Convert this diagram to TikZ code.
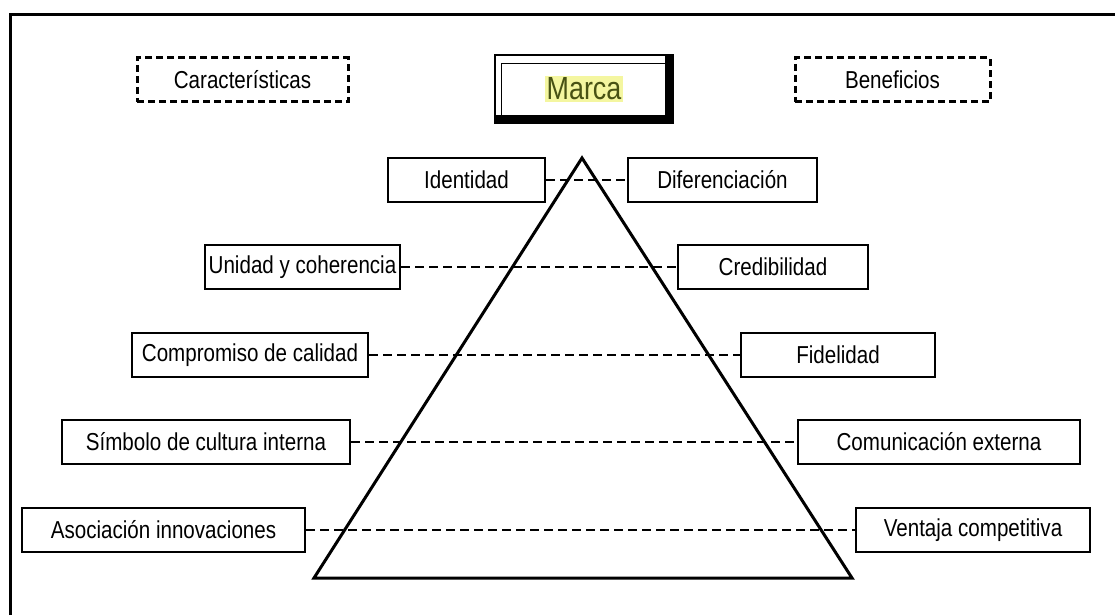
\documentclass[tikz,border=0pt]{standalone}
\usepackage{fontspec}
\setmainfont{Liberation Sans}[FakeStretch=0.84]
\usetikzlibrary{calc}
\definecolor{marcatext}{RGB}{72,82,20}
\definecolor{marcahl}{RGB}{244,246,160}

\begin{document}
\begin{tikzpicture}[
    x=1pt, y=-1pt,
    bbox/.style={draw, line width=2.6, minimum height=44, inner sep=2, font=\fontsize{24.5}{26}\selectfont},
    dbox/.style={draw, line width=3, dash pattern=on 7 off 4, minimum height=44, font=\fontsize{24.5}{26}\selectfont},
    dashline/.style={line width=2.6, dash pattern=on 9 off 5},
    line width=3
]
\useasboundingbox (0,0) rectangle (1115,615);

% outer frame (only top and left visible)
\coordinate (fbl) at (10,615);
\coordinate (ftl) at (10,15);
\coordinate (ftr) at (1115,15);
\draw[line width=3] (fbl) -- (ftl) -- (ftr);

% headers
\node[dbox, minimum width=211] (carac) at (242.5,80) {Características};
\node[dbox, minimum width=195] (benef) at (892.5,80) {Beneficios};
\node[draw, fill=white, line width=2.6, minimum width=178, minimum height=68, inner sep=0,
      font=\fontsize{32}{34}\selectfont] (marca) at (584,89)
      {\setlength{\fboxsep}{2pt}\colorbox{marcahl}{\textcolor{marcatext}{Marca}}};
\fill ($(marca.south west)+(0,-9)$) rectangle (marca.south east);
\fill ($(marca.north east)+(-9,0)$) rectangle (marca.south east);
\draw[line width=1.3] ($(marca.south west)+(8,-9)$) -- ($(marca.north west)+(8,10)$) -- ($(marca.north east)+(-9,10)$);

% pyramid
\coordinate (apex) at (582,158);
\coordinate (bl) at (314,578);
\coordinate (br) at (852,578);
\draw (apex) -- (bl) -- (br) -- cycle;

% left column: caracteristicas
\node[bbox, minimum width=157] (ident) at (466.5,180) {Identidad};
\node[bbox, minimum width=195] (unidad) at (302.5,267) {Unidad y coherencia};
\node[bbox, minimum width=236] (compr) at (250,355) {Compromiso de calidad};
\node[bbox, minimum width=288] (simbolo) at (206,442) {Símbolo de cultura interna};
\node[bbox, minimum width=283] (asoc) at (163.5,530) {Asociación innovaciones};

% right column: beneficios
\node[bbox, minimum width=189] (difer) at (722.5,180) {Diferenciación};
\node[bbox, minimum width=190] (credib) at (773,267) {Credibilidad};
\node[bbox, minimum width=194] (fidel) at (838,355) {Fidelidad};
\node[bbox, minimum width=282] (comun) at (939,442) {Comunicación externa};
\node[bbox, minimum width=234] (ventaja) at (973,530) {Ventaja competitiva};

\draw[dashline] (ident) -- (difer);
\draw[dashline] (unidad) -- (credib);
\draw[dashline] (compr) -- (fidel);
\draw[dashline] (simbolo) -- (comun);
\draw[dashline] (asoc) -- (ventaja);
\end{tikzpicture}
\end{document}
